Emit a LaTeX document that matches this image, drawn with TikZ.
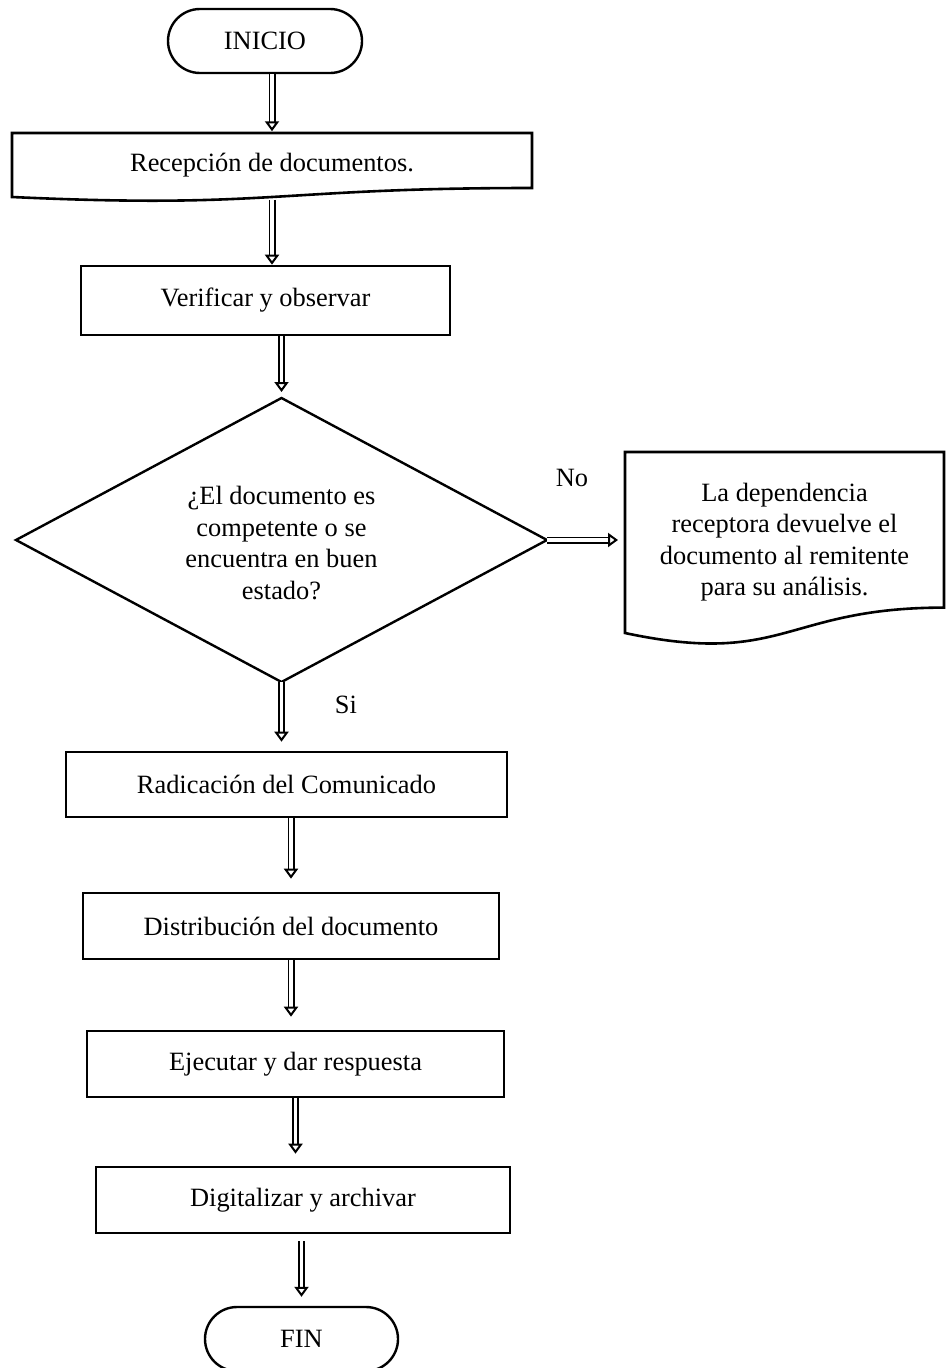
\documentclass[tikz,border=0pt]{standalone}
\usepackage{fontspec}
\setmainfont{Liberation Serif}
\usetikzlibrary{shapes.misc,arrows.meta,calc}

\begin{document}
\begin{tikzpicture}[x=1pt,y=-1pt,
  every node/.style={font=\fontsize{26.4}{31.5}\selectfont, inner sep=0pt},
  term/.style={rounded rectangle, draw, line width=2.4pt, minimum width=194pt, minimum height=64pt},
  proc/.style={rectangle, draw, line width=2.6pt},
  area/.style={rectangle, align=center, outer sep=0pt},
  outline/.style={line width=2.6pt, line join=miter},
  flow/.style={double, double distance=3.6pt, line width=1.7pt,
    -{Triangle[open, width=14pt, length=10pt, line width=2pt]}, shorten >=10pt}
]
\useasboundingbox (0,0) rectangle (946,1368);

% start
\node[term] (ini) at (265,41) {INICIO};

% incoming documents (document symbol)
\node[area, minimum width=520pt, minimum height=68.5pt] (rec) at (272,165.5) {Recepción de documentos.};
\draw[outline] (12,133) -- (532,133) -- (532,188)
  .. controls (272,188) and (272,209) .. (12,197) -- cycle;

\node[proc, minimum width=369pt, minimum height=69pt] (ver) at (265.5,300.5) {Verificar y observar};

% decision: text sits slightly below the centre of the rhombus
\node[area, minimum width=531pt, minimum height=284pt] (dec) at (281.5,543)
  {¿El documento es\\competente o se\\encuentra en buen\\estado?};
\draw[line width=2.4pt, line join=miter]
  ($(dec.north)+(0,-3)$) -- ($(dec.east)+(0,-3)$) -- ($(dec.south)+(0,-3)$) -- ($(dec.west)+(0,-3)$) -- cycle;

% rejected branch (document symbol)
\node[area, minimum width=319pt, minimum height=174pt] (ret) at (784.5,542)
  {La dependencia\\receptora devuelve el\\documento al remitente\\para su análisis.};
\draw[outline] (625,452) -- (944,452) -- (944,607.6)
  .. controls (784.5,607.6) and (784.5,667) .. (625,633) -- cycle;

\node (no) at (572,478) {No};
\node (si) at (346,705) {Si};

% accepted branch
\node[proc, minimum width=441pt, minimum height=65pt] (rad) at (286.5,784.5) {Radicación del Comunicado};
\node[proc, minimum width=416pt, minimum height=66pt] (dis) at (291,926) {Distribución del documento};
\node[proc, minimum width=417pt, minimum height=66pt] (eje) at (295.5,1064) {Ejecutar y dar respuesta};
\node[proc, minimum width=414pt, minimum height=66pt] (dig) at (303,1200) {Digitalizar y archivar};

% end
\node[term, minimum width=193pt] (fin) at (301.5,1339) {FIN};

% connectors
\draw[flow, shorten >=0pt] (rec.north |- ini.south) -- (rec.north);
\draw[flow, shorten >=0pt] (rec.south) -- (rec.south |- ver.north);
\draw[flow, shorten >=6pt] (ver.south -| dec.north) -- ($(dec.north)+(0,-3)$);
\draw[flow, shorten >=7pt] ($(dec.east)+(0,-3)$) -- (ret.west |- 0,540);
\draw[flow, shorten >=9pt] ($(dec.south)+(0,-3)$) -- (dec.south |- rad.north);
\draw[flow, shorten >=13pt] (dis.north |- rad.south) -- (dis.north);
\draw[flow, shorten >=13pt] (dis.south) -- (dis.south |- eje.north);
\draw[flow, shorten >=12pt] (eje.south) -- (eje.south |- dig.north);
\draw[flow, shorten >=9pt, shorten <=7pt] (fin.north |- dig.south) -- (fin.north);
\end{tikzpicture}
\end{document}
